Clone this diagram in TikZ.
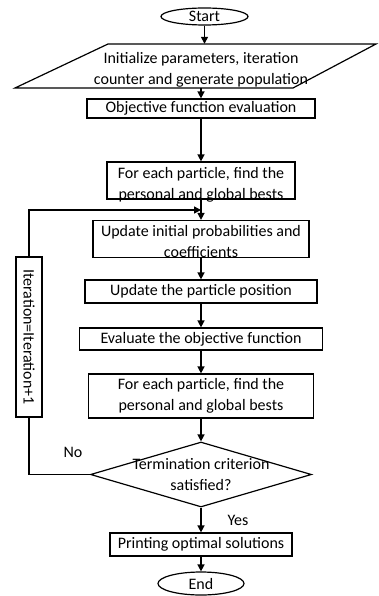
\documentclass[tikz,border=0pt]{standalone}
\usepackage{fontspec}
\setmainfont{Carlito}
\usetikzlibrary{shapes.geometric,arrows.meta}
\begin{document}
\begin{tikzpicture}[x=1pt,y=-1pt,
  every node/.style={font=\fontsize{16}{21}\selectfont, inner sep=0pt},
  box/.style={draw, line width=1.2pt, rectangle, align=center},
  term/.style={draw, ellipse, line width=1.2pt},
  arr/.style={line width=1.4pt, -{Triangle[length=7pt,width=7pt]}},
  ln/.style={line width=1.4pt}]
\useasboundingbox (0,0) rectangle (379,596);

\node[term, minimum width=87, minimum height=17] (start) at (204.5,16.5) {Start};

\node[align=center, minimum width=180, minimum height=44, text height=41pt, text depth=3pt] (init) at (201,66)
  {Initialize parameters, iteration\\counter and generate population};
\draw[line width=1.2pt] (108,44) -- (376,44) -- (293,88) -- (15,88) -- cycle;

\node[box, minimum width=228, minimum height=19] (obj) at (201,108.5) {Objective function evaluation};
\node[box, minimum width=188, minimum height=37, text height=37pt, text depth=0pt] (pb1) at (201,180.5)
  {For each particle, find the\\personal and global bests};
\node[box, minimum width=216, minimum height=34, text height=37pt, text depth=-3pt] (upd) at (201,239)
  {Update initial probabilities and\\coefficients};
\node[box, minimum width=232, minimum height=23] (pos) at (201,291.5) {Update the particle position};
\node[box, minimum width=243, minimum height=22] (eval) at (201,339) {Evaluate the objective function};
\node[box, minimum width=225, minimum height=44] (pb2) at (201,396)
  {For each particle, find the\\personal and global bests};
\node[diamond, draw, line width=1.2pt, minimum width=221, minimum height=65] (dec) at (201,474.5) {};
\node[align=center] (dectext) at (201,475) {Termination criterion\\satisfied?};
\node[box, minimum width=182, minimum height=23] (print) at (201,544.5) {Printing optimal solutions};
\node[term, minimum width=86, minimum height=23] (end) at (201,583.5) {End};

\node[box, rotate=-90, minimum width=160, minimum height=26] (iter) at (29,337) {Iteration=Iteration+1};

\node (no) at (73,452) {No};
\node (yes) at (238,520) {Yes};

\coordinate (join) at (201,210);

\draw[arr] (start) -- (start |- init.north);
\draw[arr] (init) -- (obj);
\draw[arr] (obj) -- (pb1);
\draw[arr] (pb1) -- (upd);
\draw[arr] (upd) -- (pos);
\draw[arr] (pos) -- (eval);
\draw[arr] (eval) -- (pb2);
\draw[arr] (pb2) -- (dec);
\draw[arr] (dec) -- (print);
\draw[arr] (print) -- (end);
\draw[ln] (dec) -| (iter);
\draw[arr] (iter) |- (join);
\end{tikzpicture}
\end{document}
